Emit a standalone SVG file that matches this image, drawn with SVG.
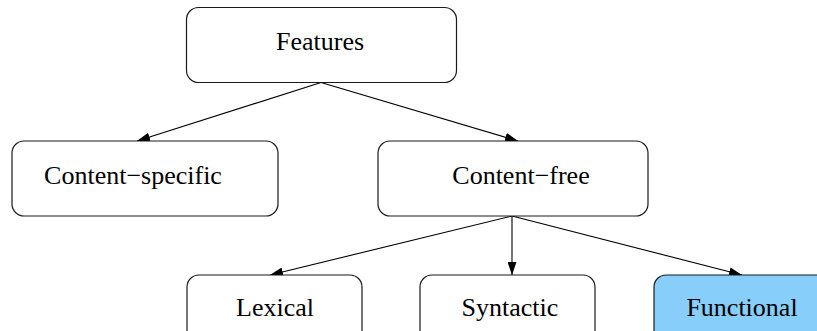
<svg xmlns="http://www.w3.org/2000/svg" width="817" height="331" viewBox="0 0 817 331">
  <style>
    .box { fill: #ffffff; stroke: #1a1a1a; stroke-width: 1.2; }
    .hl { fill: #87cefa; }
    .lbl { font-family: "Liberation Serif", "Times New Roman", serif; font-size: 26px; fill: #000; text-anchor: middle; }
    .edge { stroke: #000; stroke-width: 1.1; fill: none; marker-end: url(#arrow); }
  </style>
  <defs>
    <marker id="arrow" viewBox="0 0 13 9" refX="13" refY="4.5" markerWidth="13" markerHeight="9" markerUnits="userSpaceOnUse" orient="auto">
      <path d="M0,0 L13,4.5 L0,9 z" fill="#000"/>
    </marker>
  </defs>
  <rect width="817" height="331" fill="#ffffff"/>

  <g id="connectors">
    <line class="edge" x1="321" y1="82.5" x2="137" y2="141"/>
    <line class="edge" x1="321" y1="82.5" x2="518" y2="141"/>
    <line class="edge" x1="512" y1="216" x2="270" y2="275"/>
    <line class="edge" x1="512" y1="216" x2="512" y2="275"/>
    <line class="edge" x1="512" y1="216" x2="742" y2="275"/>
  </g>

  <g id="features">
    <rect class="box" x="186.5" y="7.5" width="270" height="75" rx="12"/>
    <text class="lbl" x="320" y="49.5">Features</text>
  </g>
  <g id="content-specific">
    <rect class="box" x="12" y="141" width="266" height="75" rx="12"/>
    <text class="lbl" x="133" y="183.5">Content−specific</text>
  </g>
  <g id="content-free">
    <rect class="box" x="378" y="141" width="270" height="75" rx="12"/>
    <text class="lbl" x="521" y="183.5">Content−free</text>
  </g>
  <g id="lexical">
    <rect class="box" x="187" y="275" width="175" height="75" rx="12"/>
    <text class="lbl" x="275" y="316">Lexical</text>
  </g>
  <g id="syntactic">
    <rect class="box" x="420" y="275" width="175" height="75" rx="12"/>
    <text class="lbl" x="510" y="316">Syntactic</text>
  </g>
  <g id="functional">
    <rect class="box hl" x="654" y="275" width="176" height="75" rx="12"/>
    <text class="lbl" x="742" y="316">Functional</text>
  </g>
</svg>
